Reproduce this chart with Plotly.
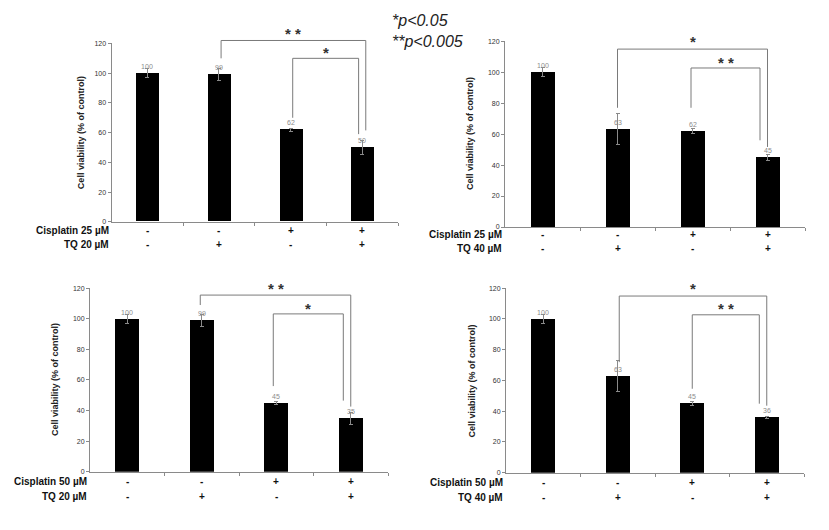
import plotly.graph_objects as go

# ---------------- data ----------------
conditions = ["Ctrl", "TQ", "Cis", "Cis+TQ"]
cis_signs = ["-", "-", "+", "+"]
tq_signs = ["-", "+", "-", "+"]

row1_labels = ["Cisplatin 25 \u00b5M", "Cisplatin 25 \u00b5M", "Cisplatin 50 \u00b5M", "Cisplatin 50 \u00b5M"]
row2_labels = ["TQ 20 \u00b5M", "TQ 40 \u00b5M", "TQ 20 \u00b5M", "TQ 40 \u00b5M"]

viab_cis25_tq20 = [100, 99, 62, 50]
err_cis25_tq20 = [3, 4, 1, 5]
viab_cis25_tq40 = [100, 63, 62, 45]
err_cis25_tq40 = [3, 10, 1.5, 2]
viab_cis50_tq20 = [100, 99, 45, 35]
err_cis50_tq20 = [3, 4, 1, 4]
viab_cis50_tq40 = [100, 63, 45, 36]
err_cis50_tq40 = [3, 10, 1, 0.5]

values = [viab_cis25_tq20, viab_cis25_tq40, viab_cis50_tq20, viab_cis50_tq40]
errors = [err_cis25_tq20, err_cis25_tq40, err_cis50_tq20, err_cis50_tq40]

# significance brackets: (x0, x1, top, left_end, right_end, label, label_y)
brackets = [
    [(1.03, 3.05, 122, 110, 61.5, "* *", 127), (2.03, 2.95, 110, 70, 59, "*", 114)],
    [(1.0, 3.0, 114.9, 77, 51.7, "*", 120), (1.98, 2.9, 102.7, 77, 56, "* *", 106)],
    [(0.98, 3.0, 115.5, 109, 42.6, "* *", 120), (1.96, 2.9, 103.2, 56, 46.5, "*", 106.5)],
    [(1.02, 3.0, 114.9, 71.9, 43.6, "*", 119.5), (2.0, 2.9, 102.7, 54.6, 44.9, "* *", 106.5)],
]

YMAX = 120
y_ticks = [0, 20, 40, 60, 80, 100, 120]

# ---------------- layout geometry ----------------
W, H = 829, 530
# (axis left px, axis right px, y=0 px, y=120 px)
panels_px = [(111.5, 398, 220.7, 40), (505, 805, 226, 37.7), (90, 388, 474, 288), (506, 804, 475, 288)]
title_shift = [-31, -35, -35, -34]
row_shift = [(-8.5, -23), (-7.5, -21), (-10, -25), (-9.5, -25)]

FONT = "Liberation Sans, Arial, sans-serif"
fig = go.Figure()
annotations = []
shapes = []

for i in range(4):
    sfx = "" if i == 0 else str(i + 1)
    xa, ya = "x" + sfx, "y" + sfx
    xl, xr, y0, y1 = panels_px[i]
    fig.add_trace(go.Bar(
        x=list(range(4)), y=values[i], width=0.32,
        marker=dict(color="black", line=dict(width=0)),
        error_y=dict(type="data", array=errors[i], color="#8a8a8a", thickness=1, width=2),
        text=[str(v) for v in values[i]], textposition="outside",
        outsidetextfont=dict(size=7, color="#8c8c8c", family=FONT),
        cliponaxis=False, xaxis=xa, yaxis=ya, showlegend=False, hoverinfo="skip",
    ))
    fig.layout["xaxis" + sfx] = dict(
        domain=[xl / W, xr / W], range=[-0.5, 3.5], anchor=ya,
        showgrid=False, zeroline=False, showline=True, linecolor="#8a8a8a", linewidth=1,
        tickmode="array", tickvals=[0.5, 1.5, 2.5, 3.5], ticks="outside", ticklen=3,
        tickcolor="#8a8a8a", showticklabels=False,
    )
    fig.layout["yaxis" + sfx] = dict(
        domain=[1 - y0 / H, 1 - y1 / H], range=[0, YMAX], anchor=xa,
        showgrid=False, zeroline=False, showline=True, linecolor="#8a8a8a", linewidth=1,
        tickmode="array", tickvals=y_ticks, ticks="outside", ticklen=3, tickcolor="#8a8a8a",
        tickfont=dict(size=7, color="#333333", family=FONT),
    )
    # y-axis title
    annotations.append(dict(
        text="<b>Cell viability (% of control)</b>", xref=xa + " domain", yref=ya + " domain",
        x=0, y=0.5, xshift=title_shift[i], textangle=-90, showarrow=False,
        xanchor="center", yanchor="middle", font=dict(size=9, color="#222222", family=FONT),
    ))
    # row labels
    for lab, sh in ((row1_labels[i], row_shift[i][0]), (row2_labels[i], row_shift[i][1])):
        annotations.append(dict(
            text="<b>" + lab + "</b>", xref=xa + " domain", yref=ya + " domain",
            x=0, y=0, xshift=-1, yshift=sh, showarrow=False, xanchor="right", yanchor="middle",
            font=dict(size=10, color="#111111", family=FONT),
        ))
    for k in range(4):
        for sign, sh in ((cis_signs[k], row_shift[i][0]), (tq_signs[k], row_shift[i][1])):
            annotations.append(dict(
                text="<b>" + sign + "</b>", xref=xa, yref=ya + " domain",
                x=k, y=0, yshift=sh, showarrow=False, xanchor="center", yanchor="middle",
                font=dict(size=10, color="#111111", family=FONT),
            ))
    # significance brackets
    for (bx0, bx1, top, le, re, lab, ly) in brackets[i]:
        path = "M {a},{b} L {a},{c} L {d},{c} L {d},{e}".format(
            a=bx0, b=le / YMAX, c=top / YMAX, d=bx1, e=re / YMAX)
        shapes.append(dict(type="path", path=path, xref=xa, yref=ya + " domain",
                           line=dict(color="#7a7a7a", width=1)))
        annotations.append(dict(
            text="<b>" + lab + "</b>", xref=xa, yref=ya + " domain", x=(bx0 + bx1) / 2, y=ly / YMAX,
            showarrow=False, xanchor="center", yanchor="middle",
            font=dict(size=15, color="#333333", family=FONT),
        ))

# p-value legend
annotations.append(dict(
    text="<i>*p&lt;0.05</i><br><i>**p&lt;0.005</i>",
    xref="paper", yref="paper", x=390 / W, y=1 - 6 / H, xanchor="left", yanchor="top",
    align="left", showarrow=False, font=dict(size=16, color="#222222", family=FONT),
))

fig.update_layout(
    width=W, height=H, margin=dict(l=0, r=0, t=0, b=0),
    paper_bgcolor="white", plot_bgcolor="white",
    annotations=annotations, shapes=shapes, bargap=0,
)

fig.write_html("out.html", config={"displayModeBar": False},
               post_script="document.body.style.margin='0';document.body.style.overflow='hidden';")
